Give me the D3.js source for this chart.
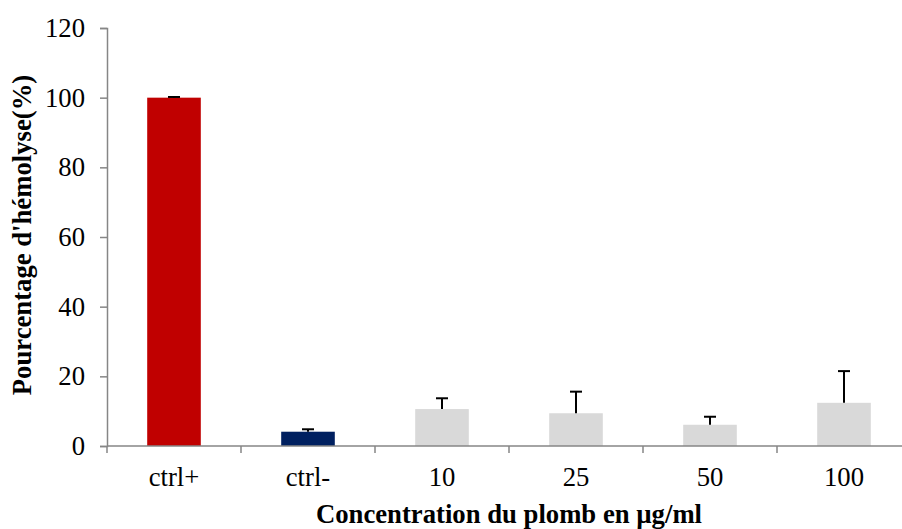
<!DOCTYPE html>
<html>
<head>
<meta charset="utf-8">
<script src="https://cdn.jsdelivr.net/npm/d3@7"></script>
<style>
  body { margin: 0; background: #fff; }
  text { font-family: "Liberation Serif", "Times New Roman", serif; }
</style>
</head>
<body>
<svg id="chart" width="902" height="529"></svg>
<script>
// data
var categories = ["ctrl+", "ctrl-", "10", "25", "50", "100"];
var values = [100, 4.1, 10.6, 9.4, 6.1, 12.4];
var errors = [0.2, 0.7, 3.1, 6.2, 2.3, 9.1];
var barColors = ["#C00000", "#002060", "#D9D9D9", "#D9D9D9", "#D9D9D9", "#D9D9D9"];
var yTicks = [0, 20, 40, 60, 80, 100, 120];

var svg = d3.select("#chart");
var x0 = 107, x1 = 911, yBottom = 446, yTop = 28;
var fs = 26.7;

var x = d3.scaleBand().domain(categories).range([x0, x1]).paddingInner(0.6).paddingOuter(0.3);
var y = d3.scaleLinear().domain([0, 120]).range([yBottom, yTop]);

// y axis
var yAxis = svg.append("g").attr("transform", "translate(" + x0 + ",0)")
  .call(d3.axisLeft(y).tickValues(yTicks).tickSize(7).tickPadding(15));
yAxis.select(".domain").attr("stroke", "#868686").attr("stroke-width", 1.5);
yAxis.selectAll(".tick line").attr("stroke", "#868686").attr("stroke-width", 1.5);
yAxis.selectAll(".tick text").attr("font-size", fs).attr("fill", "#000")
  .attr("font-family", "Liberation Serif");

// bars
svg.append("g").selectAll("rect").data(values).enter().append("rect")
  .attr("x", function(d, i) { return x(categories[i]); })
  .attr("y", function(d) { return y(d); })
  .attr("width", x.bandwidth())
  .attr("height", function(d) { return yBottom - y(d); })
  .attr("fill", function(d, i) { return barColors[i]; });

// error bars (upper only)
var eb = svg.append("g").attr("stroke", "#000").attr("stroke-width", 2);
values.forEach(function(v, i) {
  var cx = x(categories[i]) + x.bandwidth() / 2;
  eb.append("line").attr("x1", cx).attr("x2", cx).attr("y1", y(v)).attr("y2", y(v + errors[i]));
  eb.append("line").attr("x1", cx - 6).attr("x2", cx + 6).attr("y1", y(v + errors[i])).attr("y2", y(v + errors[i]));
});

// x axis with ticks between categories
var xg = svg.append("g");
xg.append("line").attr("x1", x0).attr("x2", x1).attr("y1", yBottom).attr("y2", yBottom)
  .attr("stroke", "#868686").attr("stroke-width", 1.5);
var step = x.step();
d3.range(categories.length + 1).forEach(function(i) {
  var tx = x0 + i * step;
  xg.append("line").attr("x1", tx).attr("x2", tx).attr("y1", yBottom).attr("y2", yBottom + 7)
    .attr("stroke", "#868686").attr("stroke-width", 1.5);
});
xg.selectAll("text.cat").data(categories).enter().append("text")
  .attr("class", "cat")
  .attr("x", function(d) { return x(d) + x.bandwidth() / 2; })
  .attr("y", 486)
  .attr("text-anchor", "middle")
  .attr("font-size", fs)
  .text(function(d) { return d; });

// axis titles
svg.append("text").attr("x", 509).attr("y", 523).attr("text-anchor", "middle")
  .attr("font-size", fs).attr("font-weight", "bold")
  .text("Concentration du plomb en µg/ml");
svg.append("text").attr("transform", "translate(31,235) rotate(-90)").attr("text-anchor", "middle")
  .attr("font-size", fs).attr("font-weight", "bold")
  .text("Pourcentage d'hémolyse(%)");
</script>
</body>
</html>
